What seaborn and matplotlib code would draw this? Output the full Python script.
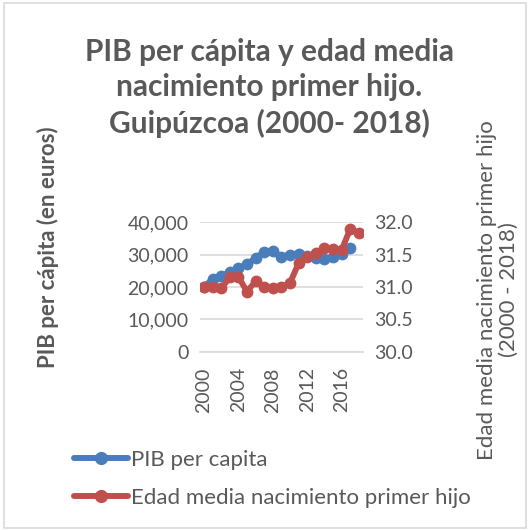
import numpy as np
import pandas as pd
import seaborn as sns
import matplotlib.pyplot as plt
from matplotlib.lines import Line2D
from matplotlib.patches import Rectangle
from matplotlib.ticker import FuncFormatter, MultipleLocator

sns.set_theme(style="white")
plt.rcParams["font.family"] = ["Lato", "DejaVu Sans"]

years = list(range(2000, 2019))
pib_per_capita = [20000, 22500, 23500, 24500, 25700, 27000, 29000, 30700, 31200,
                  29200, 30000, 30200, 29600, 28900, 28600, 29300, 30300, 32000, np.nan]
edad_media = [31.00, 31.00, 30.98, 31.15, 31.15, 30.93, 31.09, 31.00, 30.98,
              31.00, 31.06, 31.37, 31.46, 31.52, 31.60, 31.58, 31.57, 31.89, 31.83]

df = pd.DataFrame({"year": years, "pib": pib_per_capita, "edad": edad_media})

TXT = "#595959"
BLUE = "#4A7EBB"
RED = "#C0504D"
GRID = "#D9D9D9"

fig = plt.figure(figsize=(5.3, 5.3), dpi=100)
fig.patch.set_facecolor("white")
fig.add_artist(Rectangle((0.008, 0.004), 0.984, 0.99, transform=fig.transFigure,
                         fill=False, edgecolor=GRID, lw=1.2))

ax = fig.add_axes([0.377, 0.336, 0.308, 0.245])
ax2 = ax.twinx()

sns.lineplot(data=df, x="year", y="pib", ax=ax, color=BLUE, lw=4.3,
             marker="o", markersize=8.5, markeredgewidth=0, zorder=3)
sns.lineplot(data=df, x="year", y="edad", ax=ax2, color=RED, lw=4.3,
             marker="o", markersize=8.5, markeredgewidth=0, zorder=3)

ax.set_xlim(1999.5, 2018.5)
ax.set_ylim(0, 40000)
ax2.set_ylim(30.0, 32.0)
ax.yaxis.set_major_locator(MultipleLocator(10000))
ax2.yaxis.set_major_locator(MultipleLocator(0.5))
ax.yaxis.set_major_formatter(FuncFormatter(lambda v, p: f"{v:,.0f}"))
ax2.yaxis.set_major_formatter(FuncFormatter(lambda v, p: f"{v:.1f}"))
ax.set_xticks([2000, 2004, 2008, 2012, 2016])
ax.set_xticklabels(["2000", "2004", "2008", "2012", "2016"], rotation=90)

ax.grid(axis="y", color=GRID, lw=1.2)
ax.set_axisbelow(True)
for a in (ax, ax2):
    for s in a.spines.values():
        s.set_visible(False)
    a.tick_params(length=0, labelsize=14, colors=TXT, pad=8)
ax.tick_params(axis="x", pad=11)
ax.spines["bottom"].set_visible(True)
ax.spines["bottom"].set_color(GRID)
ax.spines["bottom"].set_linewidth(1.2)
ax.patch.set_alpha(0)

ax.set_xlabel("")
ax.set_ylabel("")
ax2.set_ylabel("")

fig.text(0.09, 0.534, "PIB per cápita (en euros)", rotation=90, ha="center",
         va="center", fontsize=16, fontweight="bold", color=TXT)
fig.text(0.94, 0.453, "Edad media nacimiento primer hijo\n(2000 - 2018)",
         rotation=90, ha="center", va="center", fontsize=16, color=TXT,
         linespacing=1.1, multialignment="center")

fig.text(0.508, 0.834, "PIB per cápita y edad media\nnacimiento primer hijo.\nGuipúzcoa (2000- 2018)",
         ha="center", va="center", fontsize=21.5, fontweight="bold", color=TXT,
         linespacing=1.32)

handles = [Line2D([], [], color=BLUE, lw=4.3, marker="o", markersize=8.5),
           Line2D([], [], color=RED, lw=4.3, marker="o", markersize=8.5)]
fig.legend(handles, ["PIB per capita", "Edad media nacimiento primer hijo"],
           loc="upper left", bbox_to_anchor=(0.139, 0.151), frameon=False,
           fontsize=16, labelcolor=TXT, handlelength=2.45, handletextpad=0.15,
           labelspacing=0.8, borderaxespad=0, borderpad=0)

fig.savefig("out.png", dpi=100, facecolor="white")
